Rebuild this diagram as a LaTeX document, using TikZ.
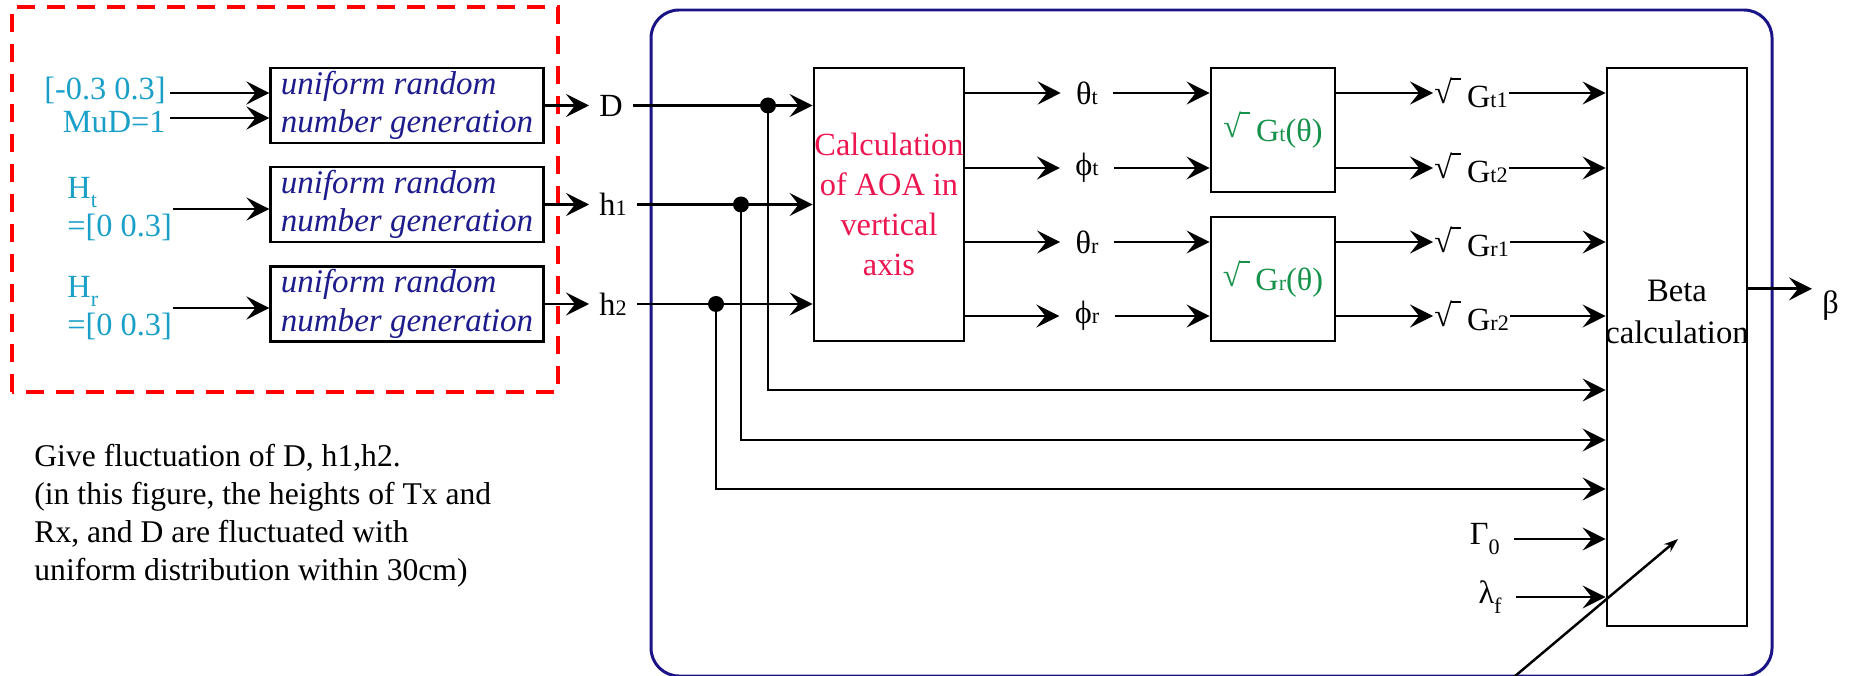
\documentclass[tikz,border=0pt]{standalone}
\usepackage{fontspec}
\setmainfont{Liberation Serif}
\usetikzlibrary{arrows.meta}
\definecolor{inputcyan}{HTML}{1AA0C8}
\definecolor{gennavy}{HTML}{1E1B8C}
\definecolor{aoared}{HTML}{EC1650}
\definecolor{gaingreen}{HTML}{17924A}
\definecolor{framenavy}{HTML}{1A1487}
\newcommand{\sm}[1]{{\fontsize{6.3}{6.3}\selectfont #1}}
\newcommand{\lo}[1]{\raisebox{-0.3em}{\fontsize{6.3}{6.3}\selectfont #1}}
\newcommand{\sqrtbar}{\raisebox{0.12em}{√}\kern-0.04em\rule[0.86em]{0.32em}{0.06em}\kern0.18em}

\begin{document}
\begin{tikzpicture}[
  line width=0.8pt,
  >={Stealth[length=2.3mm,width=2.3mm,inset=0.9mm]},
  gen/.style={draw, minimum width=2.72cm, minimum height=0.75cm, inner xsep=0.1cm, inner ysep=0.5pt, align=left, font=\fontsize{9.4}{11}\selectfont\itshape, text=gennavy},
  calc/.style={draw, inner sep=0pt, align=center, font=\fontsize{9.2}{11.4}\selectfont},
  lab/.style={inner sep=0pt, font=\fontsize{9.2}{11}\selectfont},
  inlab/.style={lab, text=inputcyan, align=left},
  dot/.style={circle, fill, inner sep=0pt, minimum size=0.16cm},
]
  \useasboundingbox (0,0) rectangle (18.54,6.75);

  % Random inputs
  \draw[red, line width=1pt, dash pattern=on 0.18cm off 0.12cm] (0.12,2.83) rectangle (5.58,6.68);

  \node[gen] (gen1) at (4.07,5.695) {uniform random\\number generation};
  \node[gen] (gen2) at (4.07,4.705) {uniform random\\number generation};
  \node[gen] (gen3) at (4.07,3.71) {uniform random\\number generation};

  \node[inlab, anchor=east] (range) at (1.67,5.85) {[-0.3 0.3]};
  \node[inlab, anchor=east] (mud) at (1.67,5.53) {MuD=1};
  \node[inlab, anchor=west] (ht) at (0.66,4.66) {H\lo{t}\\=[0 0.3]};
  \node[inlab, anchor=west] (hr) at (0.66,3.67) {H\lo{r}\\=[0 0.3]};

  \coordinate (rangeout) at (1.70,5.82);
  \coordinate (mudout) at (1.70,5.57);
  \draw[->] (rangeout) -- (rangeout -| gen1.west);
  \draw[->] (mudout) -- (mudout -| gen1.west);
  \draw[->] (ht.east) -- (ht.east -| gen2.west);
  \draw[->] (hr.east) -- (hr.east -| gen3.west);

  \node[lab, anchor=west, inner xsep=0.09cm] (dist) at (5.89,5.695) {D};
  \node[lab, anchor=west, inner xsep=0.09cm] (hone) at (5.89,4.705) {h\sm{1}};
  \node[lab, anchor=west, inner xsep=0.09cm] (htwo) at (5.89,3.71) {h\sm{2}};

  \draw[->] (gen1.east) -- (dist.west);
  \draw[->] (gen2.east) -- (hone.west);
  \draw[->] (gen3.east) -- (htwo.west);

  \node[lab, anchor=north west, align=left, font=\fontsize{9}{10.8}\selectfont] (note) at (0.33,2.32) {Give fluctuation of D, h1,h2.\\(in this figure, the heights of Tx and\\Rx, and D are fluctuated with\\uniform distribution within 30cm)};

  % Beta chain
  \draw[framenavy, line width=0.85pt, rounded corners=0.28cm] (6.51,-0.01) rectangle (17.72,6.65);

  \node[calc, text=aoared, minimum width=1.5cm, minimum height=2.73cm] (aoa) at (8.89,4.705) {Calculation\\of AOA in\\vertical\\axis};
  \node[calc, text=gaingreen, minimum width=1.24cm, minimum height=1.24cm] (gaint) at (12.73,5.45) {\sqrtbar G\sm{t}(θ)};
  \node[calc, text=gaingreen, minimum width=1.24cm, minimum height=1.24cm] (gainr) at (12.73,3.96) {\sqrtbar G\sm{r}(θ)};
  \node[calc, minimum width=1.4cm, minimum height=5.58cm] (beta) at (16.77,3.28) {};
  \node[lab, align=center, font=\fontsize{9.3}{11.7}\selectfont] (betatext) at (16.77,3.63) {Beta\\calculation};

  \node[dot] (dotd) at (7.68,5.695) {};
  \node[dot] (doth1) at (7.41,4.705) {};
  \node[dot] (doth2) at (7.16,3.71) {};
  \draw[->] (dist.east) -- (dist.east -| aoa.west);
  \draw[->] (hone.east) -- (hone.east -| aoa.west);
  \draw[->] (htwo.east) -- (htwo.east -| aoa.west);

  \coordinate (bendd) at (7.68,2.85);
  \coordinate (bendh1) at (7.41,2.35);
  \coordinate (bendh2) at (7.16,1.86);
  \draw[->] (dotd.center) -- (bendd) -- (bendd -| beta.west);
  \draw[->] (doth1.center) -- (bendh1) -- (bendh1 -| beta.west);
  \draw[->] (doth2.center) -- (bendh2) -- (bendh2 -| beta.west);

  \node[lab, inner xsep=4pt] (thetat) at (10.87,5.82) {θ\sm{t}};
  \node[lab, inner xsep=4pt] (phit) at (10.87,5.07) {ϕ\sm{t}};
  \node[lab, inner xsep=4pt] (thetar) at (10.87,4.33) {θ\sm{r}};
  \node[lab, inner xsep=4pt] (phir) at (10.87,3.59) {ϕ\sm{r}};

  \foreach \ang/\gain in {thetat/gaint, phit/gaint, thetar/gainr, phir/gainr} {
    \draw[->] (\ang -| aoa.east) -- (\ang.west);
    \draw[->] (\ang.east) -- (\ang.east -| \gain.west);
  }

  \node[lab, anchor=west] (gtone) at (14.33,5.82) {\sqrtbar G\sm{t1}};
  \node[lab, anchor=west] (gttwo) at (14.33,5.07) {\sqrtbar G\sm{t2}};
  \node[lab, anchor=west] (grone) at (14.33,4.33) {\sqrtbar G\sm{r1}};
  \node[lab, anchor=west] (grtwo) at (14.33,3.59) {\sqrtbar G\sm{r2}};

  \foreach \out/\gain in {gtone/gaint, gttwo/gaint, grone/gainr, grtwo/gainr} {
    \draw[->] (\out -| \gain.east) -- (\out.west);
    \draw[->] (\out.east) -- (\out.east -| beta.west);
  }

  \node[lab, anchor=east, inner xsep=0.13cm] (gamma) at (15.14,1.36) {Γ\lo{0}};
  \node[lab, anchor=east, inner xsep=0.13cm] (lambda) at (15.16,0.78) {λ\lo{f}};
  \draw[->] (gamma.east) -- (gamma.east -| beta.west);
  \draw[->] (lambda.east) -- (lambda.east -| beta.west);

  \node[lab, anchor=base west, inner xsep=0.09cm] (betaout) at (18.12,3.62) {β};
  \draw[->] (betaout.north west -| beta.east) -- (betaout.north west);

  \coordinate (slasha) at (15.08,-0.07);
  \coordinate (slashb) at (16.78,1.36);
  \draw[-{Stealth[length=1.4mm,width=1mm]}, line width=0.7pt] (slasha) -- (slashb);
\end{tikzpicture}
\end{document}
